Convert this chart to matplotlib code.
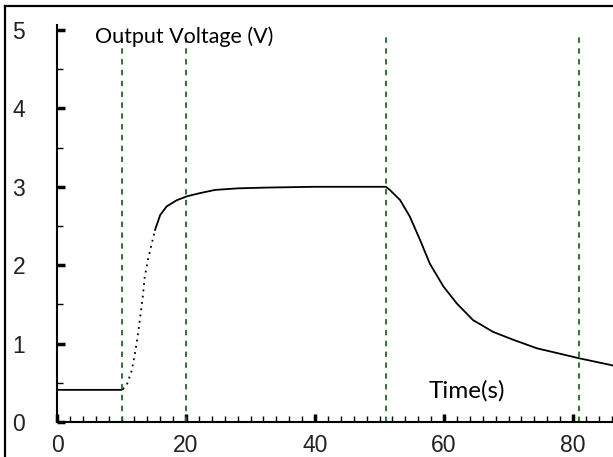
import matplotlib
matplotlib.use('Agg')
import matplotlib.pyplot as plt
from matplotlib.lines import Line2D
from matplotlib.ticker import MultipleLocator

# Dados
tempo = [0, 10.0, 10.2, 10.8, 11.6, 12.1, 12.5, 12.9, 13.3, 13.6, 14.1, 14.7, 15.2,
         16.0, 17.0, 18.6, 20.2, 22.2, 24.5, 28.0, 32.5, 40.0, 45.0, 51.0,
         51.6, 53.2, 54.7, 56.3, 57.8, 59.9, 62.0, 64.5, 67.6, 70.7, 74.4, 77.5, 81.1, 85.7, 86.2]
tensao = [0.41, 0.41, 0.42, 0.47, 0.66, 0.88, 1.09, 1.34, 1.60, 1.85, 2.07, 2.28, 2.45,
          2.64, 2.75, 2.83, 2.88, 2.92, 2.96, 2.98, 2.99, 3.0, 3.0, 3.0,
          2.96, 2.83, 2.62, 2.32, 2.02, 1.73, 1.51, 1.30, 1.15, 1.05, 0.94, 0.88, 0.81, 0.73, 0.72]
linhas_verticais = [10, 20, 51, 81]

fig = plt.figure(figsize=(6.13, 4.57), dpi=100)
ax = fig.add_axes([57/613, 35/457, 556/613, 397.5/457])

# curva: subida rapida aparece pontilhada
ax.plot(tempo[:3], tensao[:3], color='black', lw=1.3)
ax.plot(tempo[2:13], tensao[2:13], color='black', lw=1.3, linestyle=(0, (1, 2.5)))
ax.plot(tempo[12:], tensao[12:], color='black', lw=1.3)

for xv in linhas_verticais:
    ax.plot([xv, xv], [0, 4.93], color='#1e6b1e', lw=1.3, linestyle=(0, (3, 3)))

ax.set_xlim(0, 86.2)
ax.set_ylim(0, 5.07)
ax.spines['top'].set_visible(False)
ax.spines['right'].set_visible(False)
ax.spines['left'].set_linewidth(1.5)
ax.spines['bottom'].set_linewidth(1.5)

ax.xaxis.set_major_locator(MultipleLocator(20))
ax.xaxis.set_minor_locator(MultipleLocator(2))
ax.yaxis.set_major_locator(MultipleLocator(1))
ax.yaxis.set_minor_locator(MultipleLocator(0.5))
ax.tick_params(which='major', direction='in', length=6, width=2.5, labelsize=16.5, pad=9)
ax.tick_params(which='minor', direction='in', length=4, width=1)
ax.tick_params(axis='y', pad=23)
for lab in ax.get_xticklabels() + ax.get_yticklabels():
    lab.set_family(['Liberation Sans', 'DejaVu Sans'])
    lab.set_color('#222222')

ax.text(95/613, 1 - 37/457, 'Output Voltage (V)', transform=fig.transFigure, family='Lato',
        fontsize=15.5, va='center', ha='left')
ax.text(429/613, 1 - 391/457, 'Time(s)', transform=fig.transFigure, family='Lato',
        fontsize=17.5, va='center', ha='left')

# moldura da imagem
fig.add_artist(Line2D([5/613, 5/613], [0, 1 - 6/457], color='black', lw=1.6))
fig.add_artist(Line2D([5/613, 1], [1 - 6/457, 1 - 6/457], color='black', lw=1.6))

fig.savefig('out.png', dpi=100)
